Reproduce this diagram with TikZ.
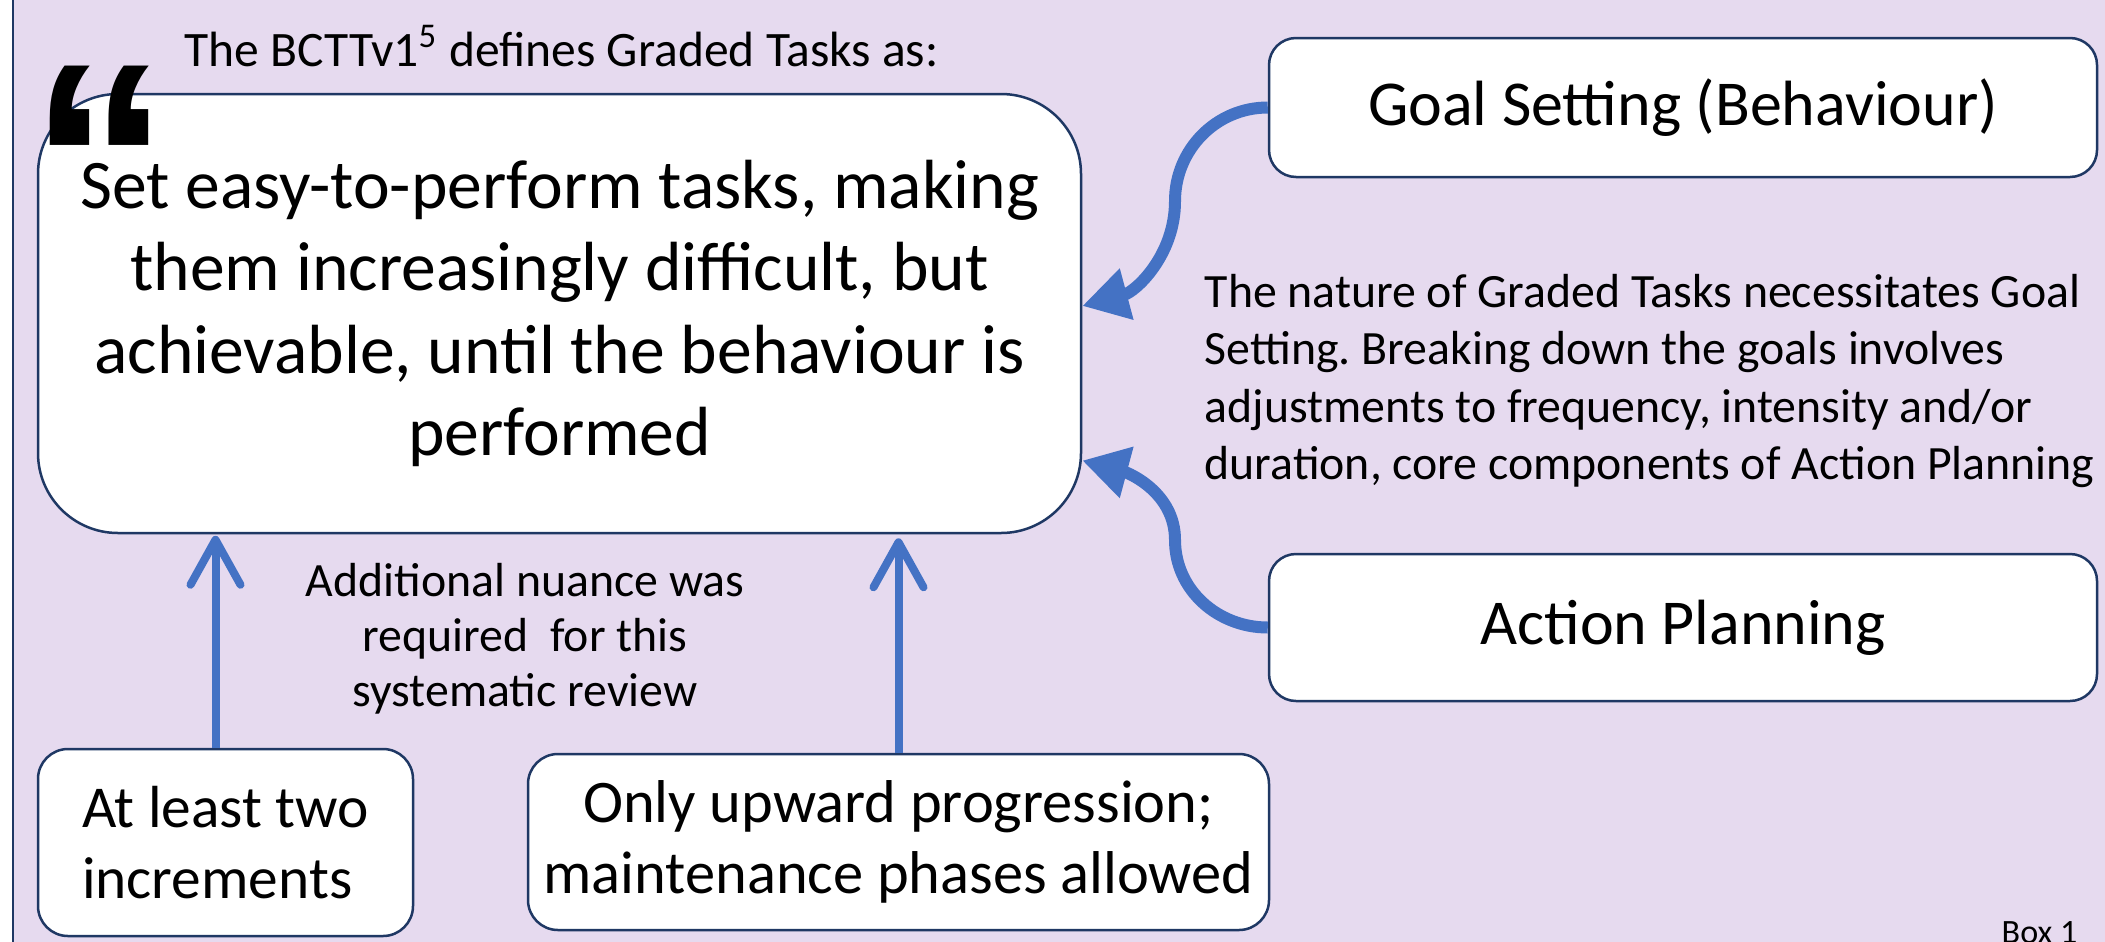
\documentclass[tikz,border=0pt]{standalone}
\usepackage{fontspec}
\setmainfont{Carlito}
\newfontfamily\quotefont{Liberation Sans}
\usetikzlibrary{arrows.meta}
\definecolor{panelbg}{HTML}{E6DAEF}
\definecolor{edgeblue}{HTML}{1F3864}
\definecolor{arrowblue}{HTML}{4472C4}
\frenchspacing

\begin{document}
\begin{tikzpicture}[x=1cm,y=1cm,
  box/.style={draw=edgeblue,line width=0.025cm,fill=white,rectangle,inner sep=0pt,align=center},
  curvearrow/.style={draw=arrowblue,line width=0.12cm,-{Triangle[length=0.46cm,width=0.5cm]}},
  uparrow/.style={draw=arrowblue,line width=0.08cm,-{Straight Barb[length=0.45cm,width=0.5cm,round]}}]
\useasboundingbox (0,0) rectangle (21.05,-9.41);
% panel behind everything
\draw[draw=edgeblue,line width=0.025cm,fill=panelbg] (0.13,0.3) rectangle (21.4,-9.7);

\node[font=\fontsize{14.1}{17}\selectfont,anchor=base west,inner sep=0] (bctt) at (1.84,-0.66) {The BCTTv1\textsuperscript{5} defines Graded Tasks as:};
\node[box,rounded corners=0.8cm,minimum width=10.43cm,minimum height=4.39cm,font=\fontsize{19.8}{23.5}\selectfont] (def) at (5.595,-3.135) {Set easy-to-perform tasks, making\\them increasingly difficult, but\\achievable, until the behaviour is\\performed};
\node[font=\fontsize{80}{80}\selectfont\quotefont\bfseries,anchor=base,inner sep=0] (quote) at (1.0,-2.59) {“};

\node[box,rounded corners=0.27cm,minimum width=8.28cm,minimum height=1.39cm,font=\fontsize{18.2}{20}\selectfont] (goal) at (16.83,-1.075) {Goal Setting (Behaviour)};
\node[box,rounded corners=0.27cm,minimum width=8.28cm,minimum height=1.47cm,font=\fontsize{18.2}{20}\selectfont] (action) at (16.83,-6.275) {Action Planning};
\node[font=\fontsize{13.6}{16.4}\selectfont,align=left,anchor=west,inner sep=0] (why) at (12.04,-3.81) {The nature of Graded Tasks necessitates Goal\\Setting. Breaking down the goals involves\\adjustments to frequency, intensity and/or\\duration, core components of Action Planning};

\node[box,rounded corners=0.3cm,minimum width=3.75cm,minimum height=1.87cm,align=left,font=\fontsize{16.9}{20}\selectfont] (incr) at (2.255,-8.425) {At least two\\increments};
\node[box,rounded corners=0.3cm,minimum width=7.41cm,minimum height=1.76cm,font=\fontsize{17.2}{20}\selectfont] (prog) at (8.985,-8.42) {Only upward progression;\\maintenance phases allowed};
\node[font=\fontsize{13.6}{15.6}\selectfont,align=center,inner sep=0] (nuance) at (5.25,-6.39) {Additional nuance was\\required\ \ for this\\systematic review};

\node[font=\fontsize{9.7}{12}\selectfont,anchor=base east,inner sep=0] (boxno) at (20.78,-9.43) {Box 1};

% links into the definition
\draw[curvearrow] (goal.west) to[out=180,in=90] (11.75,-2.01) to[out=-90,in=15] ([yshift=0.075cm]def.east);
\draw[curvearrow] (action.west) to[out=180,in=-90] (11.75,-5.40) to[out=90,in=-15] ([yshift=-1.47cm]def.east);
\draw[uparrow] ([xshift=-0.1cm]incr.north) -- ++(0,2.12);
\draw[uparrow,shorten >=0.04cm] (prog.north) -- (prog.north |- def.south);
\end{tikzpicture}
\end{document}
